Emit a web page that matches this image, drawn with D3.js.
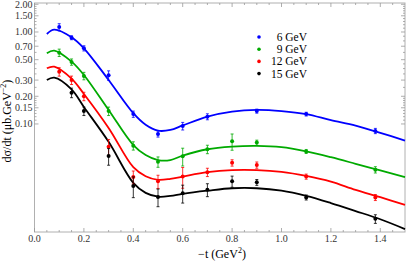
<!DOCTYPE html>
<html>
<head>
<meta charset="utf-8">
<script src="https://cdn.jsdelivr.net/npm/d3@7"></script>
<style>
  body { margin: 0; background: #fff; }
  text { font-family: "Liberation Serif", "DejaVu Serif", serif; }
</style>
</head>
<body>
<div id="chart"></div>
<script>
// Energies shown in legend
var energies = ["6 GeV", "9 GeV", "12 GeV", "15 GeV"];
var colors = ["#0000ff", "#00aa00", "#ff0000", "#000000"];

// Measured points (-t, dsigma/dt, error)
var tBlue = [0.1, 0.15, 0.2, 0.3, 0.4, 0.5, 0.6, 0.7, 0.9, 1.1, 1.38];
var vBlue = [1.13, 0.867, 0.665, 0.338, 0.128, 0.078, 0.095, 0.12, 0.138, 0.128, 0.084];
var eBlue = [0.10, 0.043, 0.043, 0.04, 0.010, 0.006, 0.009, 0.009, 0.007, 0.006, 0.0055];

var tGreen = [0.1, 0.15, 0.2, 0.3, 0.4, 0.5, 0.6, 0.7, 0.8, 0.9, 1.1, 1.38];
var vGreen = [0.596, 0.472, 0.333, 0.138, 0.058, 0.0388, 0.0447, 0.0531, 0.0648, 0.0627, 0.0503, 0.0318];
var eGreen = [0.055, 0.037, 0.031, 0.0145, 0.006, 0.005, 0.0098, 0.0056, 0.013, 0.004, 0.0025, 0.0025];

var tRed = [0.1, 0.15, 0.2, 0.3, 0.4, 0.5, 0.6, 0.7, 0.8, 0.9, 1.1, 1.38];
var vRed = [0.37, 0.30, 0.20, 0.0567, 0.0265, 0.0238, 0.0268, 0.0299, 0.0378, 0.0358, 0.0268, 0.0159];
var eRed = [0.039, 0.0315, 0.021, 0.011, 0.0043, 0.0039, 0.0068, 0.0031, 0.003, 0.0028, 0.0017, 0.0012];

var tBlack = [0.15, 0.2, 0.3, 0.4, 0.5, 0.6, 0.7, 0.8, 0.9, 1.1, 1.38];
var vBlack = [0.219, 0.138, 0.0448, 0.0212, 0.0161, 0.0177, 0.0193, 0.0238, 0.0232, 0.0159, 0.0093];
var eBlack = [0.026, 0.0145, 0.0092, 0.0054, 0.0035, 0.0039, 0.0031, 0.0033, 0.0017, 0.001, 0.001];

var tCurve = [0.05, 0.08, 0.15, 0.2, 0.3, 0.4, 0.45, 0.5, 0.55, 0.6, 0.7, 0.8, 0.9, 1.0, 1.1, 1.2, 1.3, 1.4, 1.5];
var cBlue = [0.951, 1.06, 0.876, 0.665, 0.301, 0.131, 0.098, 0.0845, 0.086, 0.0963, 0.120, 0.136, 0.142, 0.138, 0.128, 0.110, 0.096, 0.080, 0.066];
var cGreen = [0.587, 0.626, 0.476, 0.341, 0.142, 0.059, 0.046, 0.0405, 0.0405, 0.0453, 0.0531, 0.0567, 0.0577, 0.0559, 0.0503, 0.0435, 0.0369, 0.0312, 0.0264];
var cRed = [0.403, 0.420, 0.311, 0.212, 0.0905, 0.0339, 0.027, 0.0247, 0.0253, 0.0268, 0.0299, 0.0315, 0.0315, 0.0301, 0.0272, 0.0236, 0.0192, 0.0160, 0.0132];
var cBlack = [0.301, 0.319, 0.238, 0.153, 0.0639, 0.0229, 0.0178, 0.0162, 0.0165, 0.0174, 0.0188, 0.0200, 0.0200, 0.0188, 0.0165, 0.0138, 0.0113, 0.0092, 0.0072];

// Ticks
var xMajor = [0, 0.2, 0.4, 0.6, 0.8, 1.0, 1.2, 1.4];
var yMajor = [2.0, 1.5, 1.0, 0.7, 0.5, 0.3, 0.2, 0.15, 0.1];
var yMinor = [0.11, 0.12, 0.13, 0.14, 0.16, 0.17, 0.18, 0.19, 0.25, 0.35, 0.4, 0.45, 0.6, 0.8, 0.9,
              1.1, 1.2, 1.3, 1.4, 1.6, 1.7, 1.8, 1.9];

var points = [[tBlue, vBlue, eBlue], [tGreen, vGreen, eGreen], [tRed, vRed, eRed], [tBlack, vBlack, eBlack]];
var curves = [cBlue, cGreen, cRed, cBlack];

//Set Dimensions
var width = 407, height = 262;
var margin = {left: 34.5, right: 405, top: 3, bottom: 232};

var svg = d3.select("#chart").append("svg")
  .attr("width", width)
  .attr("height", height);

//Prepare scales
var x = d3.scaleLinear().domain([0, 1.5]).range([margin.left, margin.right]);
var y = d3.scaleLog().domain([0.00669, 2.066]).range([margin.bottom, margin.top]);

// Frame
svg.append("rect")
  .attr("x", margin.left).attr("y", margin.top)
  .attr("width", margin.right - margin.left).attr("height", margin.bottom - margin.top)
  .attr("fill", "none").attr("stroke", "#b0b0b0").attr("stroke-width", 1);

// X ticks (bottom and top, inward)
var xMinor = d3.range(0.05, 1.5, 0.05).filter(function(d){ return Math.abs(d*5 - Math.round(d*5)) > 1e-6; });
var tickG = svg.append("g").attr("stroke", "#999").attr("stroke-width", 0.8);
var yb = margin.bottom, yt0 = margin.top, xl = margin.left, xr = margin.right;
xMajor.forEach(function(d){
  tickG.append("line").attr("x1", x(d)).attr("x2", x(d)).attr("y1", yb).attr("y2", yb - 4);
  tickG.append("line").attr("x1", x(d)).attr("x2", x(d)).attr("y1", yt0).attr("y2", yt0 + 4);
});
xMinor.forEach(function(d){
  tickG.append("line").attr("x1", x(d)).attr("x2", x(d)).attr("y1", yb).attr("y2", yb - 2);
  tickG.append("line").attr("x1", x(d)).attr("x2", x(d)).attr("y1", yt0).attr("y2", yt0 + 2);
});
yMajor.forEach(function(d){
  tickG.append("line").attr("x1", xl).attr("x2", xl + 4).attr("y1", y(d)).attr("y2", y(d));
  tickG.append("line").attr("x1", xr).attr("x2", xr - 4).attr("y1", y(d)).attr("y2", y(d));
});
yMinor.forEach(function(d){
  tickG.append("line").attr("x1", xl).attr("x2", xl + 2).attr("y1", y(d)).attr("y2", y(d));
  tickG.append("line").attr("x1", xr).attr("x2", xr - 2).attr("y1", y(d)).attr("y2", y(d));
});

// Tick labels
svg.selectAll(".xlab").data(xMajor).enter().append("text")
  .attr("x", function(d){ return x(d); })
  .attr("y", 242)
  .attr("text-anchor", "middle")
  .attr("font-size", 10)
  .attr("fill", "#333")
  .text(function(d){ return d3.format(".1f")(d); });

svg.selectAll(".ylab").data(yMajor).enter().append("text")
  .attr("x", xl - 2)
  .attr("y", function(d){ return y(d) + 3.5; })
  .attr("text-anchor", "end")
  .attr("font-size", 10)
  .attr("fill", "#333")
  .text(function(d){ return d3.format(".2f")(d); });

// Axis titles
var xt = svg.append("text")
  .attr("x", 222).attr("y", 258)
  .attr("text-anchor", "middle")
  .attr("font-size", 12);
xt.append("tspan").text("\u2212t (GeV");
xt.append("tspan").attr("font-size", 8).attr("dy", -5).text("2");
xt.append("tspan").attr("dy", 5).text(")");

var ytl = svg.append("text")
  .attr("transform", "translate(11,121) rotate(-90)")
  .attr("text-anchor", "middle")
  .attr("font-size", 12);
ytl.append("tspan").text("d\u03c3/dt (\u03bcb.GeV");
ytl.append("tspan").attr("font-size", 8).attr("dy", -5).text("\u22122");
ytl.append("tspan").attr("dy", 5).text(")");

// Model curves
var line = d3.line()
  .x(function(d){ return x(d[0]); })
  .y(function(d){ return y(d[1]); })
  .curve(d3.curveCatmullRom.alpha(0.5));

curves.forEach(function(c, i){
  svg.append("path")
    .datum(tCurve.map(function(t, k){ return [t, c[k]]; }))
    .attr("fill", "none")
    .attr("stroke", colors[i])
    .attr("stroke-width", 1.8)
    .attr("d", line);
});

// Data points with error bars
points.forEach(function(s, i){
  var g = svg.append("g").attr("stroke", colors[i]).attr("fill", colors[i]);
  s[0].forEach(function(t, k){
    var v = s[1][k], e = s[2][k];
    var px = x(t);
    g.append("line").attr("x1", px).attr("x2", px).attr("y1", y(v + e)).attr("y2", y(v - e)).attr("stroke-width", 0.8);
    g.append("line").attr("x1", px - 1.5).attr("x2", px + 1.5).attr("y1", y(v + e)).attr("y2", y(v + e)).attr("stroke-width", 0.8);
    g.append("line").attr("x1", px - 1.5).attr("x2", px + 1.5).attr("y1", y(v - e)).attr("y2", y(v - e)).attr("stroke-width", 0.8);
    g.append("circle").attr("cx", px).attr("cy", y(v)).attr("r", 2).attr("stroke", "none");
  });
});

// Legend
var legend = svg.append("g");
energies.forEach(function(name, i){
  var ly = 37 + i * 12.2;
  legend.append("circle").attr("cx", 259).attr("cy", ly).attr("r", 1.8).attr("fill", colors[i]);
  legend.append("text")
    .attr("x", 307).attr("y", ly + 4)
    .attr("text-anchor", "end")
    .attr("font-size", 11.5)
    .text(name);
});
</script>
</body>
</html>
